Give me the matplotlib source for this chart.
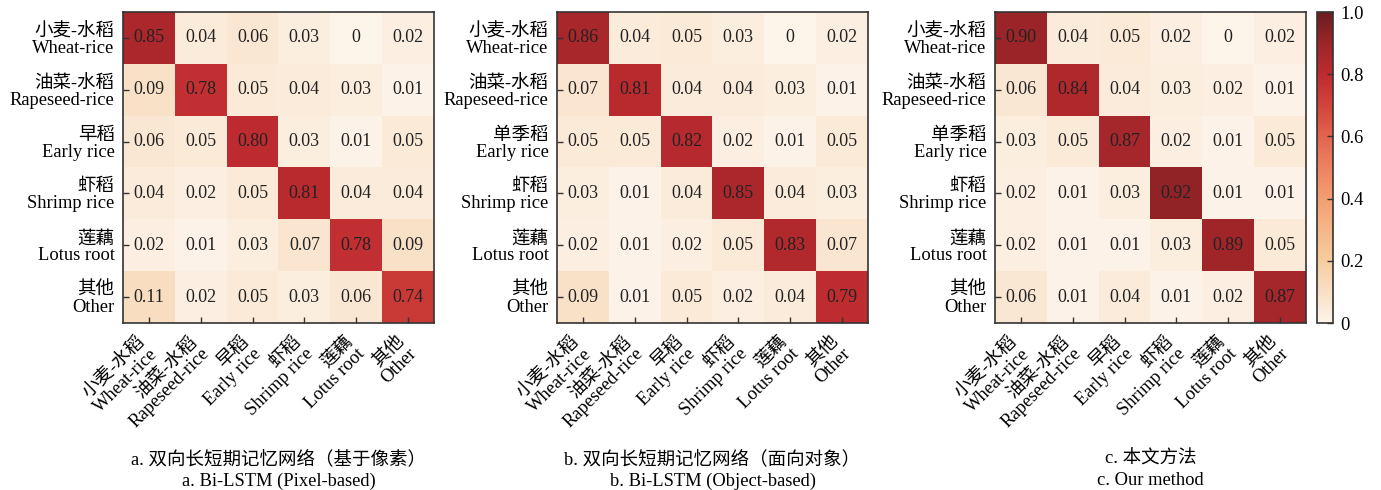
import numpy as np
import matplotlib
matplotlib.use("Agg")
import matplotlib.pyplot as plt
from matplotlib.colors import LinearSegmentedColormap, Normalize
from matplotlib.cm import ScalarMappable

FONT = ["Liberation Serif", "Noto Sans CJK SC"]
plt.rcParams["font.family"] = FONT
plt.rcParams["font.size"] = 13.3

# Class labels (Chinese / English)
x_labels = ["小麦-水稻\nWheat-rice", "油菜-水稻\nRapeseed-rice", "早稻\nEarly rice",
            "虾稻\nShrimp rice", "莲藕\nLotus root", "其他\nOther"]
y_labels_a = ["小麦-水稻\nWheat-rice", "油菜-水稻\nRapeseed-rice", "早稻\nEarly rice",
              "虾稻\nShrimp rice", "莲藕\nLotus root", "其他\nOther"]
y_labels_bc = ["小麦-水稻\nWheat-rice", "油菜-水稻\nRapeseed-rice", "单季稻\nEarly rice",
               "虾稻\nShrimp rice", "莲藕\nLotus root", "其他\nOther"]

# Normalised confusion matrices (rows: reference class, columns: predicted class)
cm_pixel = [
    [0.85, 0.04, 0.06, 0.03, 0.00, 0.02],
    [0.09, 0.78, 0.05, 0.04, 0.03, 0.01],
    [0.06, 0.05, 0.80, 0.03, 0.01, 0.05],
    [0.04, 0.02, 0.05, 0.81, 0.04, 0.04],
    [0.02, 0.01, 0.03, 0.07, 0.78, 0.09],
    [0.11, 0.02, 0.05, 0.03, 0.06, 0.74],
]
cm_object = [
    [0.86, 0.04, 0.05, 0.03, 0.00, 0.02],
    [0.07, 0.81, 0.04, 0.04, 0.03, 0.01],
    [0.05, 0.05, 0.82, 0.02, 0.01, 0.05],
    [0.03, 0.01, 0.04, 0.85, 0.04, 0.03],
    [0.02, 0.01, 0.02, 0.05, 0.83, 0.07],
    [0.09, 0.01, 0.05, 0.02, 0.04, 0.79],
]
cm_ours = [
    [0.90, 0.04, 0.05, 0.02, 0.00, 0.02],
    [0.06, 0.84, 0.04, 0.03, 0.02, 0.01],
    [0.03, 0.05, 0.87, 0.02, 0.01, 0.05],
    [0.02, 0.01, 0.03, 0.92, 0.01, 0.01],
    [0.02, 0.01, 0.01, 0.03, 0.89, 0.05],
    [0.06, 0.01, 0.04, 0.01, 0.02, 0.87],
]

titles = [
    "a. 双向长短期记忆网络（基于像素）\na. Bi-LSTM (Pixel-based)",
    "b. 双向长短期记忆网络（面向对象）\nb. Bi-LSTM (Object-based)",
    "c. 本文方法\nc. Our method",
]

cbar_ticks = [0, 0.2, 0.4, 0.6, 0.8, 1.0]
cbar_ticklabels = ["0", "0.2", "0.4", "0.6", "0.8", "1.0"]

cmap = LinearSegmentedColormap.from_list("cream_red", [
    (0.0, "#fdf4ea"), (0.1, "#f9dfc4"), (0.2, "#f6cc9f"), (0.3, "#f5b689"),
    (0.4, "#f49d72"), (0.5, "#ed8260"), (0.6, "#e2644f"), (0.7, "#d2443b"),
    (0.8, "#bd2b30"), (0.9, "#9c2529"), (1.0, "#6b1c20"),
])
norm = Normalize(vmin=0, vmax=1)

W, H = 1381, 490
fig = plt.figure(figsize=(W / 100, H / 100), dpi=100)

lefts = [123, 557, 995]
ax_w, ax_top, ax_bot = 311, 12, 323
spine_col = "#333333"

def fmt(v):
    return "0" if v == 0 else f"{v:.2f}"

for left, mat, ylabs, title in zip(lefts, [cm_pixel, cm_object, cm_ours],
                                   [y_labels_a, y_labels_bc, y_labels_bc], titles):
    ax = fig.add_axes([left / W, (H - ax_bot) / H, ax_w / W, (ax_bot - ax_top) / H])
    m = np.array(mat)
    n = m.shape[0]
    ax.imshow(m, cmap=cmap, norm=norm, aspect="auto", interpolation="nearest")
    for i in range(n):
        for j in range(n):
            ax.text(j, i, fmt(m[i, j]), ha="center", va="center",
                    fontsize=13, color="#222222")
    ax.set_xticks(range(n))
    ax.set_yticks(range(n))
    ax.set_xticklabels(x_labels, rotation=45, ha="right", va="center",
                       rotation_mode="anchor", multialignment="right",
                       linespacing=1.0)
    ax.set_yticklabels(ylabs, ha="right", multialignment="right", linespacing=1.0)
    ax.tick_params(direction="in", length=4, width=1, color=spine_col,
                   labelsize=13.3)
    ax.tick_params(axis="y", pad=6)
    ax.tick_params(axis="x", pad=16)
    for s in ax.spines.values():
        s.set_linewidth(1.2)
        s.set_color(spine_col)
    ax.text(0.5, -0.41, title, transform=ax.transAxes, ha="center", va="top",
            fontsize=13.3, linespacing=1.35)

cax = fig.add_axes([1317 / W, (H - ax_bot) / H, 16 / W, (ax_bot - ax_top) / H])
cb = fig.colorbar(ScalarMappable(norm=norm, cmap=cmap), cax=cax)
cb.set_ticks(cbar_ticks)
cb.set_ticklabels(cbar_ticklabels)
cb.ax.tick_params(direction="in", length=4, width=1, color=spine_col,
                  labelsize=13.3, pad=5)
cb.outline.set_linewidth(1.2)
cb.outline.set_edgecolor(spine_col)

fig.savefig("out.png", dpi=100)
